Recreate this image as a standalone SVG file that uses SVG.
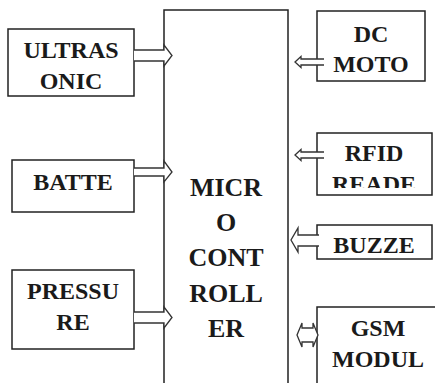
<svg xmlns="http://www.w3.org/2000/svg" width="435" height="383" viewBox="0 0 435 383">
<style>
.box{fill:#fff;stroke:#222;stroke-width:1.5}
.t{font-family:"Liberation Serif","Times New Roman",serif;font-weight:bold;font-size:24px;fill:#1a1a1a;text-anchor:middle}
.c{font-size:26px}
.ar{fill:#fff;stroke:#333;stroke-width:1.3;stroke-linejoin:miter}
</style>
<defs>
<clipPath id="rc"><rect x="317" y="133" width="118" height="55"/></clipPath>
</defs>
<rect width="435" height="383" fill="#fff"/>
<g id="mcu">
<path class="box" d="M164,395 V10 H288 V395" fill="#fff"/>
<text class="t c" x="226" y="196">MICR</text>
<text class="t c" x="226" y="231">O</text>
<text class="t c" x="226" y="266">CONT</text>
<text class="t c" x="226" y="302">ROLL</text>
<text class="t c" x="226" y="337">ER</text>
</g>
<g id="ultrasonic">
<rect class="box" x="8" y="29" width="126" height="67"/>
<text class="t" x="71" y="58">ULTRAS</text>
<text class="t" x="71" y="89">ONIC</text>
</g>
<g id="battery">
<rect class="box" x="12" y="160" width="122" height="52"/>
<text class="t" x="73" y="190">BATTE</text>
</g>
<g id="pressure">
<rect class="box" x="12" y="270" width="122" height="79"/>
<text class="t" x="73" y="299">PRESSU</text>
<text class="t" x="73" y="330">RE</text>
</g>
<g id="dcmotor">
<rect class="box" x="317" y="11" width="108" height="70"/>
<text class="t" x="371" y="42">DC</text>
<text class="t" x="371" y="72">MOTO</text>
</g>
<g id="rfid">
<rect class="box" x="317" y="133" width="115" height="62"/>
<text class="t" x="374" y="161">RFID</text>
<text class="t" x="374" y="192" clip-path="url(#rc)">READE</text>
</g>
<g id="buzzer">
<rect class="box" x="317" y="225" width="115" height="34"/>
<text class="t" x="374" y="253">BUZZE</text>
</g>
<g id="gsm">
<path class="box" d="M317,395 V307 H440"/>
<text class="t" x="378" y="336">GSM</text>
<text class="t" x="378" y="367">MODUL</text>
</g>
<g id="connectors">
<path class="ar" d="M134,50 H164 V45 L172,55.5 L164,66 V61 H134"/>
<path class="ar" d="M134,168 H164 V161 L172,172 L164,182 V176 H134"/>
<path class="ar" d="M134,312 H164 V307 L172,317.5 L164,328 V323 H134"/>
<path class="ar" d="M324,59 H301 V56.5 L295,62 L301,67.5 V65 H324"/>
<path class="ar" d="M324,152 H301 V149.5 L295,155 L301,160.5 V158 H324"/>
<path class="ar" d="M319,235 H298 V228 L291,240 L298,252 V246 H319"/>
<path class="ar" d="M302,328 H313 V323 L318,335 L313,347 V342 H302 V347 L297,335 L302,323 Z"/>
</g>
</svg>
